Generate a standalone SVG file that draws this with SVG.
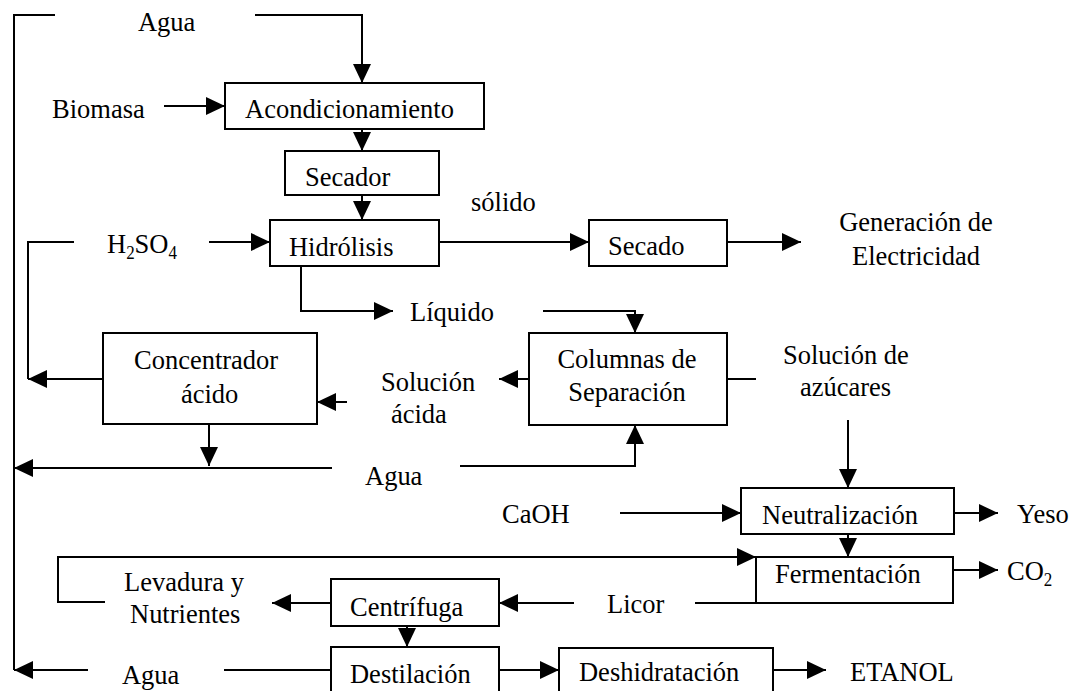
<svg xmlns="http://www.w3.org/2000/svg" width="1078" height="691" viewBox="0 0 1078 691">
  <style>
    .box { fill: #fff; stroke: #000; stroke-width: 2; }
    .ln { fill: none; stroke: #000; stroke-width: 2; }
    .arr { fill: none; stroke: #000; stroke-width: 2; marker-end: url(#ah); }
    text { font-family: "Liberation Serif", "Times New Roman", serif; font-size: 26.5px; fill: #000;
           transform-box: fill-box; transform-origin: center; transform: scaleY(1.06); }
    .c { text-anchor: middle; }
    .sub { font-size: 17px; }
  </style>
  <defs>
    <marker id="ah" markerUnits="userSpaceOnUse" markerWidth="19" markerHeight="18" refX="19" refY="9" orient="auto">
      <path d="M0,0 L19,9 L0,18 Z" fill="#000"/>
    </marker>
  </defs>

  <rect width="1078" height="691" fill="#fff"/>

  <!-- flow lines -->
  <g id="connectors">
    <!-- water recycle spine on the left -->
    <path class="ln" d="M55,15 H14 V670"/>
    <path class="arr" d="M255,15 H362 V83"/>
    <path class="arr" d="M164,106 H225"/>
    <path class="arr" d="M362,129 V151"/>
    <path class="arr" d="M362,195 V220"/>
    <!-- acid loop -->
    <path class="ln" d="M74,242 H28 V379"/>
    <path class="arr" d="M103,379 H28"/>
    <path class="arr" d="M209,242 H270"/>
    <!-- solids branch -->
    <path class="arr" d="M439,242 H589"/>
    <path class="arr" d="M727,242 H801"/>
    <!-- liquid branch -->
    <path class="arr" d="M301,266 V311 H393"/>
    <path class="arr" d="M543,311 H635 V333"/>
    <path class="arr" d="M529,379 H499"/>
    <path class="arr" d="M347,402 H317"/>
    <path class="arr" d="M209,424 V466"/>
    <path class="arr" d="M332,468 H14"/>
    <path class="arr" d="M460,466 H635 V425"/>
    <path class="ln" d="M727,379 H756"/>
    <path class="arr" d="M848,420 V488"/>
    <!-- neutralisation and fermentation -->
    <path class="arr" d="M620,513 H741"/>
    <path class="arr" d="M954,513 H998"/>
    <path class="arr" d="M848,534 V557"/>
    <path class="arr" d="M953,570 H998"/>
    <path class="arr" d="M105,602 H58 V557 H756"/>
    <path class="ln" d="M695,603 H756"/>
    <path class="arr" d="M574,603 H499"/>
    <path class="arr" d="M331,603 H272"/>
    <path class="arr" d="M407,626 V647"/>
    <!-- distillation outputs -->
    <path class="arr" d="M88,670 H14"/>
    <path class="ln" d="M224,670 H331"/>
    <path class="arr" d="M499,670 H559"/>
    <path class="arr" d="M773,670 H826"/>
  </g>

  <!-- free labels -->
  <g id="labels">
    <text x="138" y="30">Agua</text>
    <text x="52" y="117">Biomasa</text>
    <text x="471" y="210">sólido</text>
    <text x="107" y="253">H<tspan class="sub" dy="5">2</tspan><tspan dy="-5">SO</tspan><tspan class="sub" dy="5">4</tspan></text>
    <text class="c" x="916" y="230">Generación de</text>
    <text class="c" x="916" y="264">Electricidad</text>
    <text x="410" y="320">Líquido</text>
    <text x="381" y="390">Solución</text>
    <text x="391" y="422">ácida</text>
    <text x="783" y="363">Solución de</text>
    <text x="800" y="395">azúcares</text>
    <text x="365" y="484">Agua</text>
    <text x="502" y="522">CaOH</text>
    <text x="1017" y="522">Yeso</text>
    <text x="1007" y="580">CO<tspan class="sub" dy="5">2</tspan></text>
    <text x="124" y="590">Levadura y</text>
    <text x="130" y="622">Nutrientes</text>
    <text x="607" y="612">Licor</text>
    <text x="122" y="683">Agua</text>
    <text x="850" y="680">ETANOL</text>
  </g>

  <g id="acondicionamiento">
    <rect class="box" x="225" y="83" width="259" height="46"/>
    <text x="245" y="117">Acondicionamiento</text>
  </g>
  <g id="secador">
    <rect class="box" x="285" y="151" width="154" height="44"/>
    <text x="305" y="185">Secador</text>
  </g>
  <g id="hidrolisis">
    <rect class="box" x="270" y="220" width="169" height="46"/>
    <text x="289" y="255">Hidrólisis</text>
  </g>
  <g id="secado">
    <rect class="box" x="589" y="220" width="138" height="46"/>
    <text x="608" y="254">Secado</text>
  </g>
  <g id="concentrador">
    <rect class="box" x="103" y="333" width="214" height="91"/>
    <text x="134" y="368">Concentrador</text>
    <text x="181" y="402">ácido</text>
  </g>
  <g id="columnas">
    <rect class="box" x="529" y="333" width="198" height="92"/>
    <text class="c" x="627" y="367">Columnas de</text>
    <text class="c" x="627" y="400">Separación</text>
  </g>
  <g id="neutralizacion">
    <rect class="box" x="741" y="488" width="213" height="46"/>
    <text x="762" y="523">Neutralización</text>
  </g>
  <g id="fermentacion">
    <rect class="box" x="756" y="557" width="197" height="46"/>
    <text x="775" y="582">Fermentación</text>
  </g>
  <g id="centrifuga">
    <rect class="box" x="331" y="579" width="168" height="47"/>
    <text x="350" y="615">Centrífuga</text>
  </g>
  <g id="destilacion">
    <rect class="box" x="331" y="647" width="168" height="60"/>
    <text x="350" y="682">Destilación</text>
  </g>
  <g id="deshidratacion">
    <rect class="box" x="559" y="648" width="214" height="60"/>
    <text x="579" y="680">Deshidratación</text>
  </g>
</svg>
